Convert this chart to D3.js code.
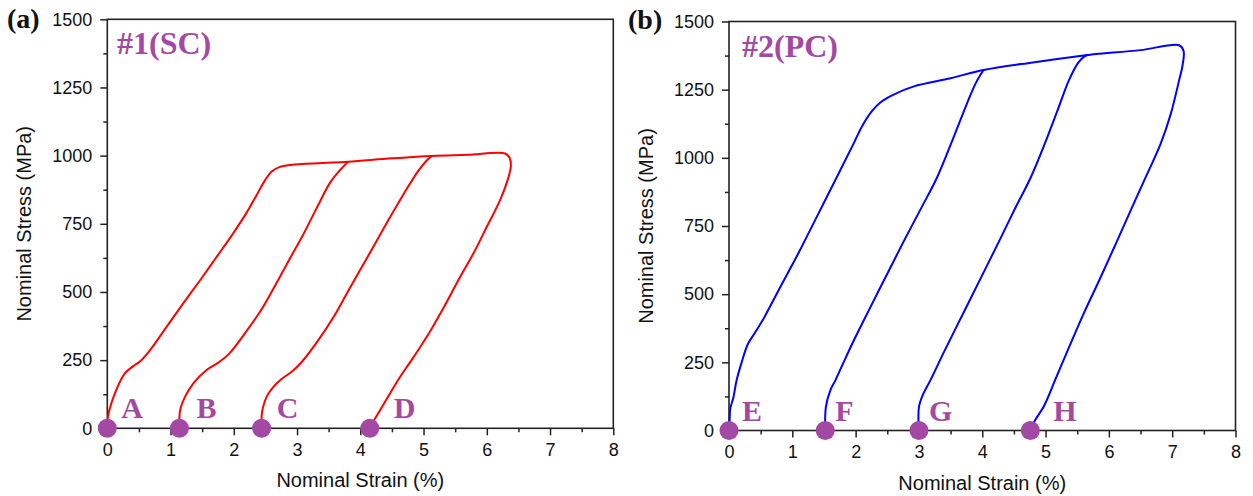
<!DOCTYPE html>
<html><head><meta charset="utf-8">
<script src="https://cdn.jsdelivr.net/npm/d3@7"></script>
<style>body{margin:0;background:#fff} svg{display:block}</style>
</head><body><svg id="c" width="1253" height="496"></svg>
<script>
// ---------- data ----------
const xTicks = [0, 1, 2, 3, 4, 5, 6, 7, 8];
const yTicks = [0, 250, 500, 750, 1000, 1250, 1500];
const xTitle = "Nominal Strain (%)";
const yTitle = "Nominal Stress (MPa)";
const panelLetters = ["(a)", "(b)"];
const sampleNames = ["#1(SC)", "#2(PC)"];

// #1 (SC): loading envelope A -> tip -> D, and reloading branches from B and C
const scEnvelope = [[0,0],[0.01,42],[0.12,128],[0.28,202],[0.41,228],[0.52,246],[0.68,288],[0.94,373],[1.20,458],[1.47,544],[1.73,629],[1.99,715],[2.20,790],[2.36,855],[2.50,912],[2.60,942],[2.72,958],[2.90,966],[3.4,973],[3.81,978],[4.5,990],[5.13,999],[5.7,1003],[6.29,1008],[6.36,992],[6.38,960],[6.33,911],[6.21,837],[6.0,739],[5.79,642],[5.58,556],[5.34,452],[5.14,370],[4.95,299],[4.78,240],[4.63,189],[4.47,128],[4.31,65],[4.20,22],[4.16,0]];
const scBranchB = [[1.14,0],[1.14,43],[1.16,75],[1.23,116],[1.36,165],[1.57,214],[1.75,240],[1.92,272],[2.18,350],[2.45,440],[2.68,535],[2.90,628],[3.10,712],[3.32,812],[3.52,900],[3.68,947],[3.81,978]];
const scBranchC = [[2.44,0],[2.44,43],[2.46,75],[2.52,116],[2.62,150],[2.75,180],[2.92,208],[3.08,245],[3.32,318],[3.58,409],[3.80,500],[4.02,590],[4.24,680],[4.46,770],[4.70,865],[4.92,945],[5.05,982],[5.13,999]];
const scPoints = [0, 1.14, 2.44, 4.15];
const scPointLabels = ["A", "B", "C", "D"];

// #2 (PC): loading envelope E -> tip -> H, and reloading branches from F and G
const pcEnvelope = [[0,0],[0.01,40],[0.02,80],[0.07,122],[0.12,184],[0.2,250],[0.3,318],[0.4,355],[0.55,412],[0.8,522],[1.1,652],[1.4,790],[1.70,928],[1.97,1053],[2.1,1115],[2.26,1172],[2.4,1205],[2.6,1232],[2.92,1262],[3.5,1292],[4.02,1322],[4.8,1350],[5.66,1377],[5.8,1381],[6.5,1395],[7.11,1413],[7.18,1392],[7.16,1334],[7.11,1285],[6.98,1163],[6.82,1053],[6.56,918],[6.35,810],[6.1,680],[5.85,552],[5.6,428],[5.38,310],[5.16,190],[4.98,92],[4.82,32],[4.76,0]];
const pcBranchF = [[1.52,0],[1.53,86],[1.60,147],[1.68,184],[1.8,245],[1.95,320],[2.2,437],[2.5,575],[2.8,712],[3.05,822],[3.28,925],[3.55,1077],[3.76,1200],[3.9,1275],[4.02,1322]];
const pcBranchG = [[3.0,0],[3.0,86],[3.07,135],[3.18,184],[3.4,290],[3.7,430],[4.0,570],[4.3,710],[4.52,815],[4.76,925],[5.03,1077],[5.21,1187],[5.37,1285],[5.52,1350],[5.61,1371],[5.66,1377]];
const pcPoints = [0, 1.52, 3.0, 4.76];
const pcPointLabels = ["E", "F", "G", "H"];

// ---------- layout ----------
const PURPLE = "#a349a4";
const panels = [
  {x0:107.3, x1:613.3, yTop:19.3, yBot:428.3, color:"#ff0000",
   curves:[scEnvelope, scBranchB, scBranchC], pts:scPoints, labels:scPointLabels,
   labelDx:[14,17,15,24], letterX:7, letterY:28, nameX:117, nameY:54, yTitleX:24,
   letter:panelLetters[0], name:sampleNames[0]},
  {x0:729, x1:1235.5, yTop:21.5, yBot:430.5, color:"#0000ff",
   curves:[pcEnvelope, pcBranchF, pcBranchG], pts:pcPoints, labels:pcPointLabels,
   labelDx:[13,10,10,23], letterX:628, letterY:29, nameX:742, nameY:57, yTitleX:646,
   letter:panelLetters[1], name:sampleNames[1]}
];

const svg = d3.select("#c");
const AX = "#222";
const SANS = "'Liberation Sans', Arial, sans-serif";
const SERIF = "'Liberation Serif', 'Times New Roman', serif";

panels.forEach(p => {
  const x = d3.scaleLinear().domain([0, 8]).range([p.x0, p.x1]);
  const y = d3.scaleLinear().domain([0, 1500]).range([p.yBot, p.yTop]);
  const g = svg.append("g");

  // minor ticks
  const xMinor = d3.range(0.5, 8, 1);
  const yMinor = d3.range(125, 1500, 250);
  g.append("g").attr("transform", `translate(0,${p.yBot})`)
    .call(d3.axisBottom(x).tickValues(xMinor).tickSize(4).tickFormat(""))
    .call(a => a.select(".domain").remove())
    .call(a => a.selectAll("line").attr("stroke", AX).attr("stroke-width", 1.5));
  g.append("g").attr("transform", `translate(${p.x0},0)`)
    .call(d3.axisLeft(y).tickValues(yMinor).tickSize(4).tickFormat(""))
    .call(a => a.select(".domain").remove())
    .call(a => a.selectAll("line").attr("stroke", AX).attr("stroke-width", 1.5));

  // major ticks + labels
  g.append("g").attr("transform", `translate(0,${p.yBot})`)
    .call(d3.axisBottom(x).tickValues(xTicks).tickSize(7).tickPadding(8).tickFormat(d3.format("d")))
    .call(a => a.select(".domain").remove())
    .call(a => a.selectAll("line").attr("stroke", AX).attr("stroke-width", 1.5))
    .call(a => a.selectAll("text").attr("fill", "#111").attr("font-size", 18)
      .attr("font-family", SANS));
  g.append("g").attr("transform", `translate(${p.x0},0)`)
    .call(d3.axisLeft(y).tickValues(yTicks).tickSize(7).tickPadding(8).tickFormat(d3.format("d")))
    .call(a => a.select(".domain").remove())
    .call(a => a.selectAll("line").attr("stroke", AX).attr("stroke-width", 1.5))
    .call(a => a.selectAll("text").attr("fill", "#111").attr("font-size", 18)
      .attr("font-family", SANS));

  // frame
  g.append("rect").attr("x", p.x0).attr("y", p.yTop)
    .attr("width", p.x1 - p.x0).attr("height", p.yBot - p.yTop)
    .attr("fill", "none").attr("stroke", AX).attr("stroke-width", 1.6);

  // curves
  const line = d3.line().x(d => x(d[0])).y(d => y(d[1])).curve(d3.curveCatmullRom.alpha(0.5));
  g.selectAll("path.curve").data(p.curves).join("path").attr("class", "curve")
    .attr("d", line).attr("fill", "none").attr("stroke", p.color)
    .attr("stroke-width", 2).attr("stroke-linejoin", "round");

  // points
  g.selectAll("circle.pt").data(p.pts).join("circle").attr("class", "pt")
    .attr("cx", d => x(d)).attr("cy", y(0)).attr("r", 9.5).attr("fill", PURPLE);
  g.selectAll("text.pl").data(p.labels).join("text").attr("class", "pl")
    .attr("x", (d, i) => x(p.pts[i]) + p.labelDx[i]).attr("y", p.yBot - 10)
    .attr("fill", PURPLE).attr("font-size", 30).attr("font-weight", "bold")
    .attr("font-family", SERIF).text(d => d);

  // titles
  g.append("text").attr("x", (p.x0 + p.x1) / 2).attr("y", p.yBot + 59)
    .attr("text-anchor", "middle").attr("font-size", 20).attr("fill", "#111")
    .attr("font-family", SANS).text(xTitle);
  g.append("text").attr("transform", `translate(${p.yTitleX},${(p.yTop + p.yBot) / 2}) rotate(-90)`)
    .attr("text-anchor", "middle").attr("dominant-baseline", "central")
    .attr("font-size", 20).attr("fill", "#111")
    .attr("font-family", SANS).text(yTitle);

  g.append("text").attr("x", p.letterX).attr("y", p.letterY)
    .attr("font-size", 28).attr("font-weight", "bold").attr("fill", "#111")
    .attr("font-family", SERIF).text(p.letter);
  g.append("text").attr("x", p.nameX).attr("y", p.nameY)
    .attr("font-size", 32).attr("font-weight", "bold").attr("fill", PURPLE)
    .attr("font-family", SERIF).text(p.name);
});
</script>
</body></html>
